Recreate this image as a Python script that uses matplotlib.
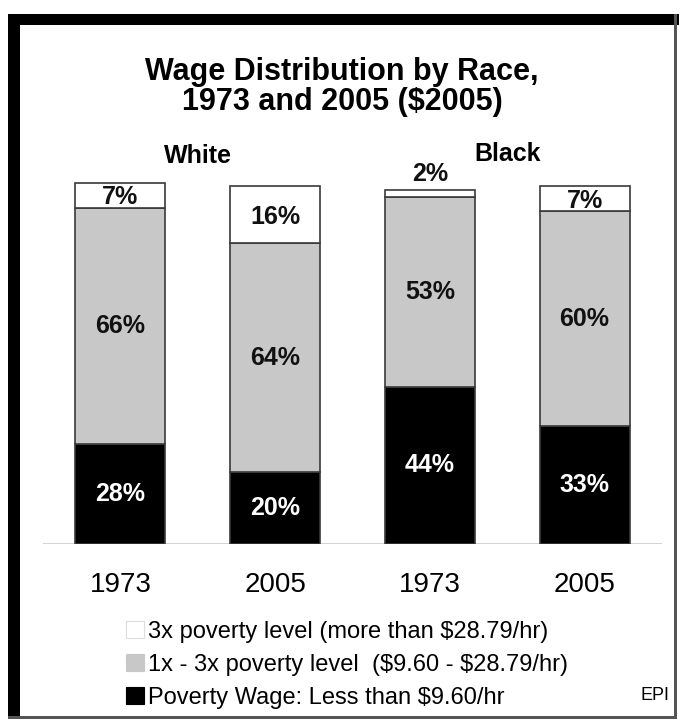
import matplotlib
matplotlib.use("Agg")
import matplotlib.pyplot as plt
from matplotlib.patches import Rectangle, Patch

plt.rcParams['font.family'] = ['Liberation Sans', 'DejaVu Sans']

# data
years = ['1973', '2005', '1973', '2005']
groups = ['White', 'Black']
poverty = [28, 20, 44, 33]
middle = [66, 64, 53, 60]
top = [7, 16, 2, 7]
legend_labels = ['3x poverty level (more than $28.79/hr)',
                 '1x - 3x poverty level  ($9.60 - $28.79/hr)',
                 'Poverty Wage: Less than $9.60/hr']

W, H = 679, 722
fig = plt.figure(figsize=(W / 100, H / 100), dpi=100)


def px(x, y):
    """pixel (from top-left) -> figure fraction"""
    return x / W, 1 - y / H


ax = fig.add_axes([43 / W, 1 - 544 / H, 619 / W, 365 / H])

x = list(range(len(years)))
bw = 0.58
edge = '#3a3a3a'
b1 = ax.bar(x, poverty, bw, color='black', edgecolor=edge, linewidth=1.2)
b2 = ax.bar(x, middle, bw, bottom=poverty, color='#c8c8c8', edgecolor=edge, linewidth=1.2)
bottom2 = [p + m for p, m in zip(poverty, middle)]
b3 = ax.bar(x, top, bw, bottom=bottom2, color='white', edgecolor=edge, linewidth=1.2)

ax.set_xlim(-0.5, 3.5)
ax.set_ylim(0, 102)
for s in ax.spines.values():
    s.set_visible(False)
ax.axhline(0, color='#cccccc', linewidth=1.2, zorder=0)
ax.set_yticks([])
ax.set_xticks(x)
ax.set_xticklabels(years, fontsize=20)
ax.tick_params(axis='x', length=0, pad=20)

lab_kw = dict(ha='center', va='center', fontsize=18, fontweight='bold')
for i in x:
    ax.text(i, poverty[i] / 2, f'{poverty[i]}%', color='white', **lab_kw)
    ax.text(i, poverty[i] + middle[i] / 2, f'{middle[i]}%', color='#111111', **lab_kw)
    if top[i] >= 5:
        ax.text(i, bottom2[i] + top[i] / 2 - 0.6, f'{top[i]}%', color='#111111', **lab_kw)
    else:
        ax.text(i, bottom2[i] + top[i] + 4.5, f'{top[i]}%', color='#111111', **lab_kw)

ax.text(0.5, 108.5, groups[0], ha='center', va='center', fontsize=18, fontweight='bold', clip_on=False)
ax.text(2.5, 109, groups[1], ha='center', va='center', fontsize=18, fontweight='bold', clip_on=False)

fig.text(*px(342, 87), 'Wage Distribution by Race,\n1973 and 2005 ($2005)',
         ha='center', va='center', fontsize=22, fontweight='bold', linespacing=1.0,
         parse_math=False)

handles = [Patch(facecolor='white', edgecolor='#dddddd', linewidth=0.8),
           Patch(facecolor='#c8c8c8', edgecolor='#c8c8c8', linewidth=0.8),
           Patch(facecolor='black', edgecolor='black', linewidth=0.8)]
leg = fig.legend(handles, [s.replace('$', r'\$') for s in legend_labels],
                 loc='upper left', bbox_to_anchor=px(126, 621),
                 frameon=False, fontsize=17, handlelength=0.75, handleheight=0.75,
                 handletextpad=0.2, labelspacing=0.46, borderaxespad=0, borderpad=0)

fig.text(*px(655, 696), 'EPI', ha='center', va='center', fontsize=13)

# frame: thick black left/top, thin gray right/bottom
x0, y0 = px(8, 719)
fig.add_artist(Rectangle((x0, y0), 12 / W, 705 / H, transform=fig.transFigure,
                         facecolor='black', edgecolor='none'))
x0, y0 = px(8, 25)
fig.add_artist(Rectangle((x0, y0), 671 / W, 11 / H, transform=fig.transFigure,
                         facecolor='black', edgecolor='none'))
x0, y0 = px(674, 719)
fig.add_artist(Rectangle((x0, y0), 3 / W, 705 / H, transform=fig.transFigure,
                         facecolor='#555555', edgecolor='none'))
x0, y0 = px(8, 719)
fig.add_artist(Rectangle((x0, y0), 669 / W, 3 / H, transform=fig.transFigure,
                         facecolor='#555555', edgecolor='none'))

fig.savefig('out.png', dpi=100)
